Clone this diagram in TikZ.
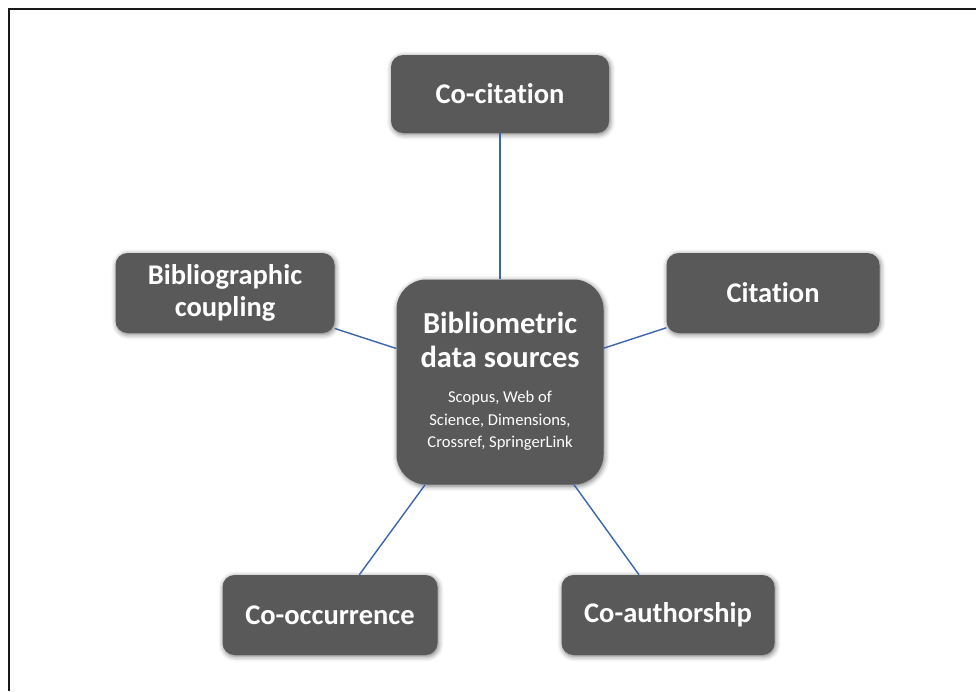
\documentclass[tikz,border=0pt]{standalone}
\usepackage{fontspec}
\setmainfont{Carlito}[Ligatures=NoCommon]
\usetikzlibrary{shadows.blur}
\definecolor{boxgray}{HTML}{595959}
\definecolor{linkblue}{HTML}{3B64AD}
\tikzset{
  topic/.style={fill=boxgray, rounded corners=12pt, inner sep=0pt, align=center,
    text=white, font=\fontsize{28.5}{32}\selectfont\bfseries,
    blur shadow={shadow xshift=1pt, shadow yshift=-1.5pt, shadow blur radius=5pt, shadow opacity=55}},
  hub/.style={topic, rounded corners=30pt},
  link/.style={draw=linkblue, line width=1.4pt}
}
\begin{document}
\begin{tikzpicture}[x=1pt,y=-1pt]
\useasboundingbox (0,0) rectangle (976,691);
\draw[line width=2.5pt, black!90] (9,691) -- (9,9) -- (976,9);

\node[hub, minimum width=207pt, minimum height=205pt] (hub) at (500,382)
  {\fontsize{30.5}{34}\selectfont\bfseries
   \begin{tabular}{@{}c@{}}Bibliometric\\data sources\end{tabular}\\[8pt]
   \fontsize{16.6}{22.5}\selectfont\mdseries
   \begin{tabular}{@{}c@{}}Scopus, Web of\\Science, Dimensions,\\Crossref, SpringerLink\end{tabular}};

\node[topic, minimum width=218pt, minimum height=78pt] (cocit) at (500,94) {Co-citation};
\node[topic, minimum width=219pt, minimum height=80pt] (bib) at (225,293) {Bibliographic\\coupling};
\node[topic, minimum width=213pt, minimum height=80pt] (cit) at (773,293) {Citation};
\node[topic, minimum width=215pt, minimum height=80pt] (cooc) at (330,615) {Co-occurrence};
\node[topic, minimum width=213pt, minimum height=80pt] (coauth) at (668,615) {Co-authorship};

\draw[link] (cocit) -- (hub);
\draw[link] (bib) -- (hub);
\draw[link] (cit) -- (hub);
\draw[link] (cooc) -- (hub);
\draw[link] (coauth) -- (hub);
\end{tikzpicture}
\end{document}
